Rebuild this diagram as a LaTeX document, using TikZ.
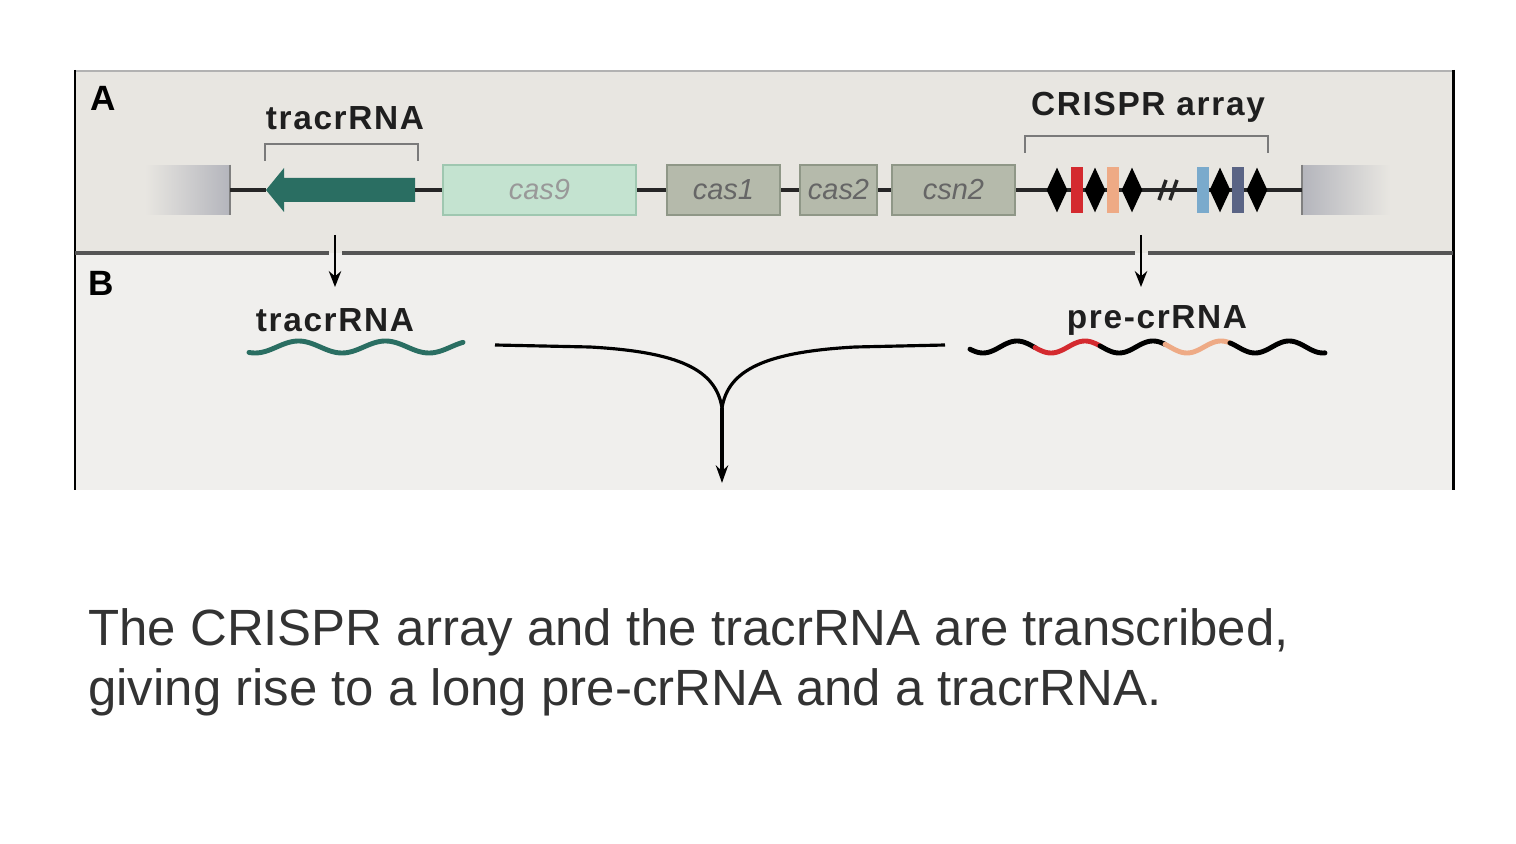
\documentclass[tikz,border=0pt]{standalone}
\usepackage{fontspec}
\setmainfont{Liberation Sans}
\newfontfamily\lblfont[LetterSpace=5]{Liberation Sans}
\usetikzlibrary{arrows.meta,shapes.geometric}
\definecolor{panelA}{HTML}{E8E6E1}
\definecolor{panelB}{HTML}{F0EFED}
\definecolor{sepgray}{HTML}{555555}
\definecolor{boxgray}{HTML}{B4B5BC}
\definecolor{teal}{HTML}{2A6E62}
\definecolor{casgreen}{HTML}{C4E3D0}
\definecolor{casgreenD}{HTML}{9FC7B0}
\definecolor{casgray}{HTML}{B5BAAB}
\definecolor{casgrayD}{HTML}{8F9787}
\definecolor{rred}{HTML}{D42A2F}
\definecolor{rorange}{HTML}{EEAA85}
\definecolor{rblue}{HTML}{7AAACC}
\definecolor{rslate}{HTML}{5A6485}
\definecolor{brk}{HTML}{7A7A7A}
\definecolor{captxt}{HTML}{333333}
\tikzset{
  genebox/.style={rectangle, inner sep=0pt, minimum height=1cm, font=\fontsize{16.5pt}{18pt}\selectfont\itshape},
  cas9box/.style={genebox, fill=casgreen, draw=casgreenD, line width=1.2pt, text=gray!80},
  casbox/.style={genebox, fill=casgray, draw=casgrayD, line width=1.2pt, text=black!60},
  rep/.style={diamond, fill=black, inner sep=0pt, minimum width=0.42cm, minimum height=0.9cm},
  spacer/.style={rectangle, inner sep=0pt, minimum width=0.24cm, minimum height=0.92cm},
  backbone/.style={line width=2.1pt, black!85},
  bracket/.style={line width=1.3pt, brk},
  lbl/.style={font=\lblfont\bfseries\fontsize{19pt}{21pt}\selectfont, text=black!88, inner sep=0pt},
  panel/.style={font=\bfseries\fontsize{20pt}{22pt}\selectfont, inner sep=0pt},
  downarrow/.style={line width=1.5pt, -{Stealth[length=9pt,width=7pt]}},
  wave/.style={line width=2.8pt, line cap=round},
  merge/.style={line width=1.8pt, black}
}
\begin{document}
\begin{tikzpicture}[x=0.02cm,y=-0.02cm]
\useasboundingbox[fill=white] (0,0) rectangle (1516,844);
% panels
\fill[panelA] (75,70) rectangle (1453,253);
\fill[panelB] (75,253) rectangle (1453,490);
\draw[line width=1.5pt, black!30] (75,71) -- (1453,71);
\draw[line width=1.7pt, black] (75,70) -- (75,490);
\draw[line width=1.7pt, black] (1453,70) -- (1453,490);
\draw[line width=2.4pt, sepgray] (75,253) -- (329,253) (342,253) -- (1135,253) (1148,253) -- (1453,253);
\node[panel] (pA) at (103,98) {A};
\node[panel] (pB) at (101,283) {B};

% gene boxes
\node[rectangle, inner sep=0pt, minimum width=1.7cm, minimum height=1cm, left color=panelA, right color=boxgray] (lbox) at (187.5,190) {};
\draw[line width=1pt, gray] (lbox.north east) -- (lbox.south east);
\node[cas9box, minimum width=3.86cm] (cas9) at (539.5,190) {cas9};
\node[casbox, minimum width=2.26cm] (cas1) at (723.5,190) {cas1};
\node[casbox, minimum width=1.54cm] (cas2) at (838.5,190) {cas2};
\node[casbox, minimum width=2.46cm] (csn2) at (953.5,190) {csn2};
\node[rectangle, inner sep=0pt, minimum width=1.76cm, minimum height=1cm, left color=boxgray, right color=panelA] (rbox) at (1346,190) {};
\draw[line width=1pt, gray] (rbox.north west) -- (rbox.south west);

% tracrRNA gene arrow
\fill[teal] (266,190) -- (284,168) -- (284,178) -- (415,178) -- (415,202) -- (284,202) -- (284,212) -- cycle;
\coordinate (trW) at (266,190);
\coordinate (trE) at (415,190);

% backbone
\draw[backbone] (lbox.east) -- (trW);
\draw[backbone] (trE) -- (cas9.west);
\draw[backbone] (cas9.east) -- (cas1.west);
\draw[backbone] (cas1.east) -- (cas2.west);
\draw[backbone] (cas2.east) -- (csn2.west);
\draw[backbone] (csn2.east) -- (rbox.west);

% CRISPR array
\node[rep] (d1) at (1057,190) {};
\node[spacer, fill=rred] (s1) at (1077,190) {};
\node[rep] (d2) at (1095,190) {};
\node[spacer, fill=rorange] (s2) at (1113,190) {};
\node[rep] (d3) at (1132,190) {};
\draw[line width=2pt, black!85] (1159,200) -- (1166,180) (1170,200) -- (1177,180);
\node[spacer, fill=rblue] (s3) at (1203,190) {};
\node[rep] (d4) at (1220,190) {};
\node[spacer, fill=rslate] (s4) at (1238,190) {};
\node[rep] (d5) at (1257,190) {};

% brackets and labels
\draw[bracket] (265,161) -- (265,144) -- (418,144) -- (418,161);
\node[lbl] (tA) at (345,118) {tracrRNA};
\draw[bracket] (1025,153) -- (1025,136) -- (1268,136) -- (1268,153);
\node[lbl] (cA) at (1148,107) {CRISPR array};

% transcription arrows
\coordinate (a1s) at (335,235);
\coordinate (a1e) at (335,287);
\coordinate (a2s) at (1141,235);
\coordinate (a2e) at (1141,287);
\draw[downarrow] (a1s) -- (a1e);
\draw[downarrow] (a2s) -- (a2e);

% panel B labels
\node[lbl] (tB) at (335,320) {tracrRNA};
\node[lbl] (pB2) at (1157,320) {pre-crRNA};

% waves
\draw[wave, teal] plot[domain=249:463, samples=120] (\x, {347+6*cos(4.1379*(\x-255))});
\draw[wave, black] plot[domain=970:1035, samples=50] (\x, {347+6*cos(5.2941*(\x-983))});
\draw[wave, rred] plot[domain=1035:1100, samples=50] (\x, {347+6*cos(5.2941*(\x-983))});
\draw[wave, black] plot[domain=1100:1165, samples=50] (\x, {347+6*cos(5.2941*(\x-983))});
\draw[wave, rorange] plot[domain=1165:1230, samples=50] (\x, {347+6*cos(5.2941*(\x-983))});
\draw[wave, black] plot[domain=1230:1325, samples=70] (\x, {347+6*cos(5.2941*(\x-983))});

% merging arrow
\coordinate (mL) at (495,345);
\coordinate (mR) at (945,345);
\coordinate (mM) at (722,408);
\coordinate (mE) at (722,483);
\draw[merge] (mL) -- (590,347) .. controls (680,352) and (716,370) .. (mM);
\draw[merge] (mR) -- (855,347) .. controls (765,352) and (728,370) .. (mM);
\draw[merge, -{Stealth[length=10pt,width=7pt]}] (mM) -- (mE);

% caption
\node[anchor=base west, inner sep=0pt, text=captxt, font=\fontsize{29pt}{34pt}\selectfont] (cap1) at (88,645) {The CRISPR array and the tracrRNA are transcribed,};
\node[anchor=base west, inner sep=0pt, text=captxt, font=\fontsize{29pt}{34pt}\selectfont] (cap2) at (88,705) {giving rise to a long pre-crRNA and a tracrRNA.};
\end{tikzpicture}
\end{document}
